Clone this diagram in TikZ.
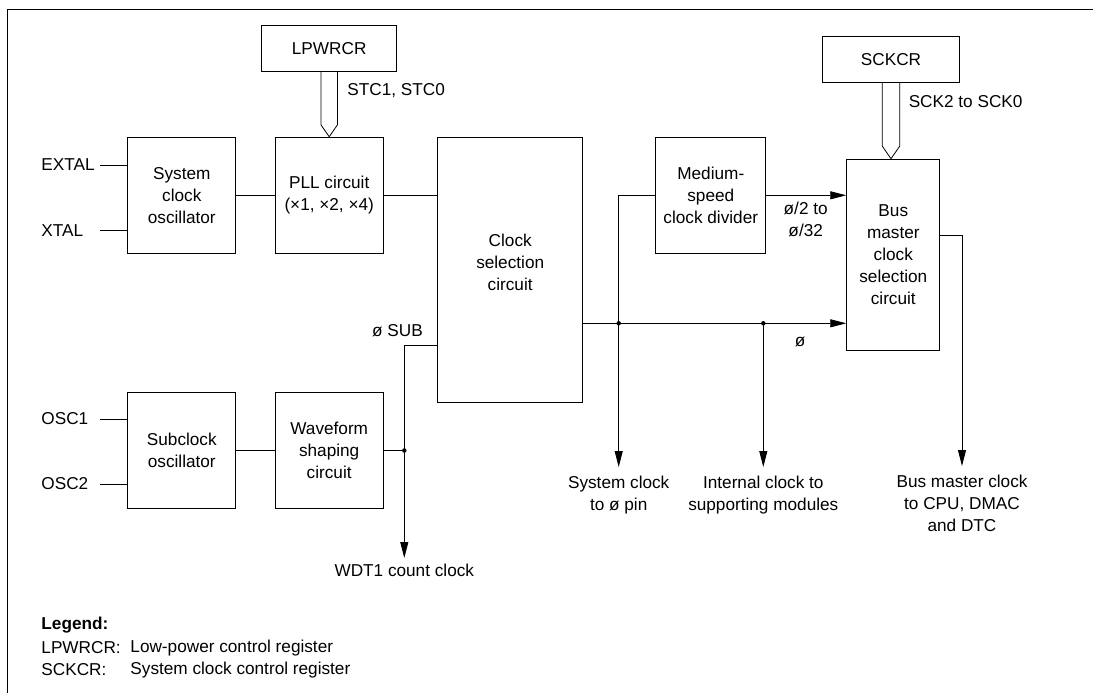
\documentclass[tikz,border=0pt]{standalone}
\usepackage{fontspec}
\setmainfont{Liberation Sans}
\usetikzlibrary{arrows.meta, positioning, calc}

\begin{document}
\begin{tikzpicture}[x=1pt, y=-1pt, >={Triangle[length=16pt,width=8pt]}, line width=0.9pt,
  font=\fontsize{17.2}{22}\selectfont,
  block/.style={draw, line width=1.1pt, align=center, inner sep=0pt, minimum width=108pt, minimum height=116pt},
  reg/.style={draw, line width=1.1pt, inner sep=0pt, minimum height=46pt},
  lbl/.style={inner sep=0pt, align=center},
  jdot/.style={circle, fill, inner sep=0pt, minimum size=4.5pt}]
  \useasboundingbox (0,0) rectangle (1093,693);
  % frame
  \draw (7,693) -- (7,9) -- (1093,9);
  % registers
  \node[reg, minimum width=135pt] (lpwrcr) at (329.2,48.7) {LPWRCR};
  \node[reg, minimum width=137pt] (sckcr) at (891,59.5) {SCKCR};
  % blocks
  \node[block] (sysosc) at (181.8,195.3) {System\\clock\\oscillator};
  \node[block] (pll) at (329.2,195.3) {PLL circuit\\(×1, ×2, ×4)};
  \node[block, minimum width=145pt, minimum height=265.4pt] (clksel) at (510.2,270) {Clock\\selection\\circuit\\[-7pt]};
  \node[block] (subosc) at (181.8,450.5) {Subclock\\oscillator};
  \node[block] (wave) at (329.2,450.5) {Waveform\\shaping\\circuit};
  \node[block, minimum width=110pt] (medium) at (710.8,195.3) {Medium-\\speed\\clock divider};
  \node[block, minimum width=93pt, minimum height=191.4pt] (busm) at (893.3,255) {Bus\\master\\clock\\selection\\circuit};
  % pins
  \node[lbl, anchor=west] (extal) at (41,165) {EXTAL};
  \node[lbl, anchor=west] (xtal) at (41,230.7) {XTAL};
  \node[lbl, anchor=west] (osc1) at (41,419) {OSC1};
  \node[lbl, anchor=west] (osc2) at (41,484) {OSC2};
  \coordinate (extalin) at (100,165);
  \coordinate (xtalin) at (100,230.7);
  \coordinate (osc1in) at (100,419);
  \coordinate (osc2in) at (100,484);
  \draw (extalin) -- (extalin -| sysosc.west);
  \draw (xtalin) -- (xtalin -| sysosc.west);
  \draw (osc1in) -- (osc1in -| subosc.west);
  \draw (osc2in) -- (osc2in -| subosc.west);
  % register buses
  \draw[line width=0.8pt] ([xshift=-8.3pt]lpwrcr.south) -- ([xshift=-8.3pt,yshift=12pt]pll.north) -- (pll.north)
    -- ([xshift=8.3pt,yshift=12pt]pll.north) -- ([xshift=8.3pt]lpwrcr.south);
  \node[lbl, anchor=west] (stc) at (347,90.7) {STC1, STC0};
  \draw[line width=0.8pt] ([xshift=-8.7pt]sckcr.south) -- ([xshift=-8.7pt,yshift=12.6pt]sckcr.south |- busm.north)
    -- (sckcr.south |- busm.north) -- ([xshift=8.7pt,yshift=12.6pt]sckcr.south |- busm.north) -- ([xshift=8.7pt]sckcr.south);
  \node[lbl, anchor=west] (sck) at (908.3,101.7) {SCK2 to SCK0};
  % main clock path
  \draw (sysosc.east) -- (pll.west);
  \draw (pll.east) -- (pll.east -| clksel.west);
  \draw (subosc.east) -- (wave.east -| subosc.east) -- (wave.west);
  % subclock
  \coordinate (subj) at (404.3,450.5);
  \coordinate (subc) at (404.3,345.7);
  \node[lbl, anchor=east] (phisub) at (423.3,330.7) {ø SUB};
  \node[lbl, anchor=north] (wdt) at (404.3,564) {WDT1 count clock};
  \draw (wave.east) -- (subj);
  \draw[->] (subc -| clksel.west) -- (subc) -- (subj) -- ([yshift=6pt]wdt.north);
  \node[jdot] at (subj) {};
  % system clock
  \coordinate (j1) at (618.7,323.3);
  \coordinate (j2) at (763.3,323.3);
  \node[lbl, anchor=north] (sysphi) at (618.7,476) {System clock\\to ø pin};
  \node[lbl, anchor=north] (intclk) at (763.3,476) {Internal clock to\\supporting modules};
  \node[lbl, anchor=north] (busout) at (962,475) {Bus master clock\\to CPU, DMAC\\and DTC};
  \draw[->] (j1 -| clksel.east) -- (j1 -| busm.west);
  \node[lbl] (phi) at (800,341.7) {ø};
  \draw (medium.west) -| (j1);
  \draw[->] (j1) -- ([yshift=9pt]sysphi.north);
  \draw[->] (j2) -- ([yshift=9pt]intclk.north);
  \node[jdot] at (j1) {};
  \node[jdot] at (j2) {};
  \draw[->] (medium.east) -- (medium.east -| busm.west);
  \node[lbl] (div) at (805.7,219) {ø/2 to\\ø/32};
  \coordinate (bo) at (962,235.7);
  \draw[->] (bo -| busm.east) -- (bo) -- ([yshift=9pt]busout.north);
  % legend
  \node[lbl, anchor=west] (leg) at (41,625) {\textbf{Legend:}};
  \node[lbl, anchor=west] (leg1) at (41,647.7) {LPWRCR:};
  \node[lbl, anchor=west] (leg1t) at (130,647.7) {Low-power control register};
  \node[lbl, anchor=west] (leg2) at (41,670) {SCKCR:};
  \node[lbl, anchor=west] (leg2t) at (130,670) {System clock control register};
\end{tikzpicture}
\end{document}
